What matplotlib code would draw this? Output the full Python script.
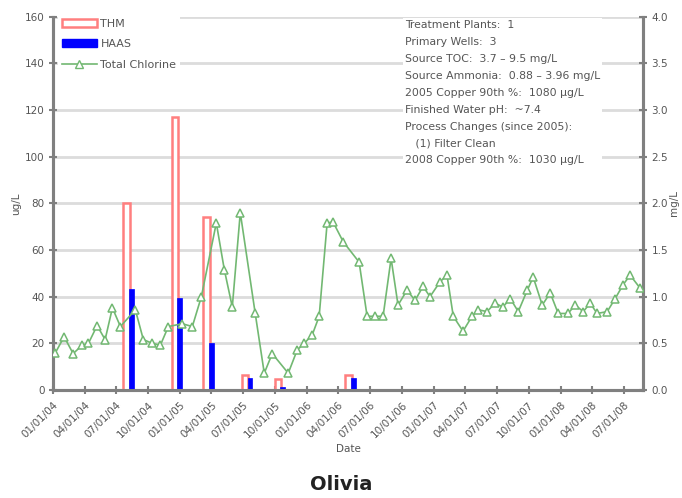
import matplotlib
matplotlib.use("Agg")
import matplotlib.pyplot as plt
from matplotlib.patches import Patch
from matplotlib.lines import Line2D
import pandas as pd

# ---------------- data ----------------
sample_dates = ["2004-08-06", "2004-12-24", "2005-03-24", "2005-07-14", "2005-10-16", "2006-05-08"]
thm_values = [80, 117, 74, 6.3, 4.9, 6.3]
haas_values = [43.5, 39.5, 20, 5.1, 1.4, 5.1]

chlorine_dates = [
    "2004-01-08", "2004-02-02", "2004-02-28", "2004-03-25", "2004-04-12", "2004-05-07",
    "2004-05-30", "2004-06-20", "2004-07-13", "2004-08-25", "2004-09-17", "2004-10-13",
    "2004-11-05", "2004-11-28", "2005-01-07", "2005-02-05", "2005-03-03", "2005-04-15",
    "2005-05-08", "2005-05-31", "2005-06-23", "2005-08-05", "2005-08-31", "2005-09-23",
    "2005-11-08", "2005-12-04", "2005-12-24", "2006-01-16", "2006-02-05", "2006-02-28",
    "2006-03-17", "2006-04-15", "2006-05-31", "2006-06-23", "2006-07-16", "2006-08-08",
    "2006-08-31", "2006-09-20", "2006-10-16", "2006-11-08", "2006-12-01", "2006-12-21",
    "2007-01-19", "2007-02-08", "2007-02-26", "2007-03-26", "2007-04-21", "2007-05-09",
    "2007-06-03", "2007-06-26", "2007-07-19", "2007-08-09", "2007-09-01", "2007-09-27",
    "2007-10-14", "2007-11-09", "2007-12-02", "2007-12-25", "2008-01-22", "2008-02-12",
    "2008-03-06", "2008-03-26", "2008-04-15", "2008-05-14", "2008-06-06", "2008-06-29",
    "2008-07-19", "2008-08-17",
]
chlorine_values = [
    0.40, 0.57, 0.39, 0.48, 0.50, 0.69,
    0.54, 0.88, 0.68, 0.86, 0.54, 0.50,
    0.48, 0.68, 0.71, 0.68, 1.00, 1.79,
    1.29, 0.89, 1.90, 0.82, 0.18, 0.39,
    0.18, 0.43, 0.50, 0.59, 0.79, 1.79,
    1.80, 1.59, 1.37, 0.79, 0.79, 0.79,
    1.41, 0.91, 1.07, 0.96, 1.11, 1.00,
    1.16, 1.23, 0.79, 0.63, 0.79, 0.86,
    0.84, 0.93, 0.89, 0.98, 0.84, 1.07,
    1.21, 0.91, 1.04, 0.82, 0.82, 0.91,
    0.84, 0.93, 0.82, 0.84, 0.98, 1.13,
    1.23, 1.09,
]

tick_dates = ["2004-01-01", "2004-04-01", "2004-07-01", "2004-10-01",
              "2005-01-01", "2005-04-01", "2005-07-01", "2005-10-01",
              "2006-01-01", "2006-04-01", "2006-07-01", "2006-10-01",
              "2007-01-01", "2007-04-01", "2007-07-01", "2007-10-01",
              "2008-01-01", "2008-04-01", "2008-07-01"]
left_ticks = [0, 20, 40, 60, 80, 100, 120, 140, 160]
right_ticks = [0.0, 0.5, 1.0, 1.5, 2.0, 2.5, 3.0, 3.5, 4.0]

info_lines = [
    "Treatment Plants:  1",
    "Primary Wells:  3",
    "Source TOC:  3.7 \u2013 9.5 mg/L",
    "Source Ammonia:  0.88 \u2013 3.96 mg/L",
    "2005 Copper 90th %:  1080 \u00b5g/L",
    "Finished Water pH:  ~7.4",
    "Process Changes (since 2005):",
    "   (1) Filter Clean",
    "2008 Copper 90th %:  1030 \u00b5g/L",
]

# ---------------- style ----------------
red = "#ff7f7f"
blue = "#0000ff"
green = "#72b872"
axis_gray = "#808080"
text_gray = "#555555"
grid_gray = "#dcdcdc"

fig = plt.figure(figsize=(6.82, 4.98), dpi=100)
ax = fig.add_axes([53/682, 1-390/498, (643-53)/682, (390-16.7)/498])
ax2 = ax.twinx()

sd = pd.to_datetime(sample_dates)
off = pd.Timedelta(days=7)
ax.bar(sd - off, thm_values, width=19, color="white", edgecolor=red, linewidth=1.8, zorder=3)
ax.bar(sd + off, haas_values, width=14, color=blue, edgecolor=blue, linewidth=0.5, zorder=4)

cd = pd.to_datetime(chlorine_dates)
ax2.plot(cd, chlorine_values, color=green, linewidth=1.2, marker="^", markersize=5.5,
         markerfacecolor="white", markeredgecolor=green, markeredgewidth=1.1, zorder=5)

ax.set_ylim(0, 160)
ax2.set_ylim(0, 4.0)
ax.set_xlim(pd.Timestamp("2004-01-01"), pd.Timestamp("2008-08-25"))

ax.set_yticks(left_ticks)
ax.set_yticklabels([str(v) for v in left_ticks])
ax2.set_yticks(right_ticks)
ax2.set_yticklabels([f"{v:.1f}" for v in right_ticks])

td = pd.to_datetime(tick_dates)
ax.set_xticks(td)
ax.set_xticklabels([d.strftime("%m/%d/%y") for d in td], rotation=45, ha="right",
                   rotation_mode="anchor")

ax.grid(axis="y", color=grid_gray, linewidth=2, zorder=0)
ax.set_axisbelow(True)

for a in (ax, ax2):
    a.spines["top"].set_visible(False)
    for s in ("left", "bottom", "right"):
        a.spines[s].set_color(axis_gray)
        a.spines[s].set_linewidth(2.2)
    a.tick_params(axis="both", colors=axis_gray, labelcolor=text_gray, labelsize=7.5,
                  direction="inout", length=6, width=1.5)
ax.tick_params(axis="x", pad=4)
ax.tick_params(axis="y", pad=3)
ax2.tick_params(axis="y", pad=3)

ax.set_ylabel("ug/L", fontsize=7.5, color=text_gray, labelpad=3)
ax2.set_ylabel("mg/L", fontsize=7.5, color=text_gray, labelpad=1)
ax.set_xlabel("Date", fontsize=7.5, color=text_gray, labelpad=3)

handles = [
    Patch(facecolor="white", edgecolor=red, linewidth=1.8, label="THM"),
    Patch(facecolor=blue, edgecolor=blue, label="HAAS"),
    Line2D([0], [0], color=green, linewidth=1.2, marker="^", markersize=5.5,
           markerfacecolor="white", markeredgecolor=green, label="Total Chlorine"),
]
leg = ax2.legend(handles=handles, loc="upper left", bbox_to_anchor=(0.005, 1.01),
                 frameon=True, fontsize=8, handlelength=3.2, borderpad=0.3,
                 labelspacing=0.95, handletextpad=0.3, borderaxespad=0.2)
leg.get_frame().set_edgecolor("none")
leg.get_frame().set_facecolor("white")
leg.get_frame().set_alpha(1)
for t in leg.get_texts():
    t.set_color(text_gray)

ax2.text(0.596, 0.99, "\n".join(info_lines), transform=ax2.transAxes, fontsize=7.8,
         color=text_gray, va="top", ha="left", linespacing=1.86,
         bbox=dict(facecolor="white", edgecolor="none", pad=1.5), zorder=10)

fig.text(0.5, 0.027, "Olivia", fontsize=14, fontweight="bold", ha="center",
         va="center", color="#222222")

fig.savefig("out.png", dpi=100)
